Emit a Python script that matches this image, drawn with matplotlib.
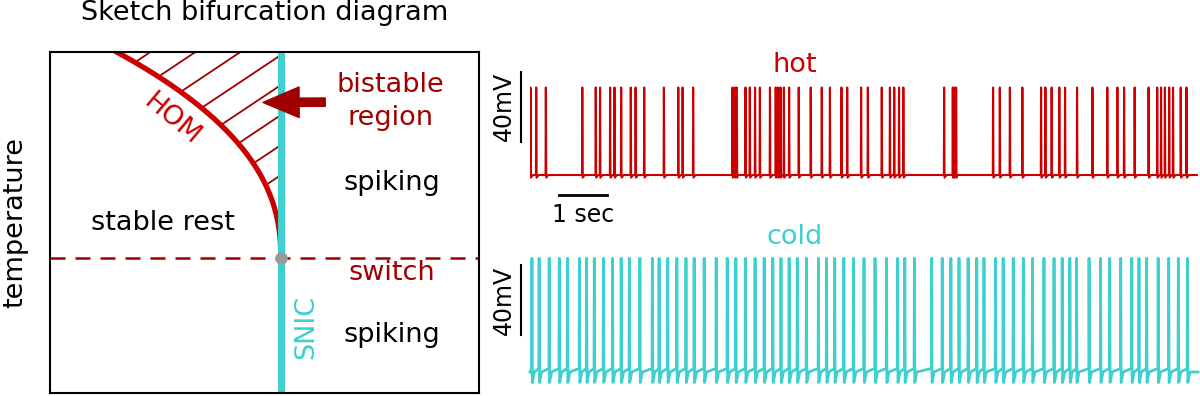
import numpy as np
import matplotlib.pyplot as plt
from matplotlib.patches import Polygon, FancyArrowPatch

# spike times (s)
hot_spikes = [0.01, 0.13, 0.33, 1.09, 1.37, 1.46, 1.67, 1.76, 1.90, 2.10, 2.20, 2.38,
              2.79, 3.09, 3.18, 3.40, 4.22, 4.27, 4.31, 4.49, 4.58, 4.69, 4.79, 5.00,
              5.12, 5.17, 5.22, 5.29, 5.40, 5.60, 5.85, 6.08, 6.25, 6.49, 6.61, 6.90,
              7.04, 7.33, 7.50, 7.59, 7.69, 7.78, 8.63, 8.81, 8.84, 8.88, 9.65, 9.79,
              10.00, 10.26, 10.65, 10.74, 10.87, 11.03, 11.15, 11.40, 11.72, 12.03,
              12.24, 12.38, 12.60, 12.89, 13.07, 13.15, 13.23, 13.32, 13.40, 13.56, 13.68]
cold_spikes = [0.04, 0.19, 0.40, 0.61, 0.78, 1.03, 1.18, 1.34, 1.53, 1.72, 1.90, 2.07,
               2.29, 2.55, 2.69, 2.87, 3.06, 3.25, 3.42, 3.63, 3.88, 4.11, 4.29, 4.49,
               4.69, 4.88, 5.06, 5.23, 5.40, 5.57, 5.76, 6.01, 6.18, 6.35, 6.54, 6.74,
               6.96, 7.19, 7.43, 7.66, 7.81, 8.01, 8.37, 8.59, 8.77, 8.94, 9.13, 9.31,
               9.46, 9.70, 9.86, 10.07, 10.28, 10.47, 10.71, 10.92, 11.09, 11.25, 11.39,
               11.65, 11.89, 12.08, 12.31, 12.54, 12.69, 12.85, 13.09, 13.31, 13.51, 13.70]
t_end = 13.92

hot_rest, hot_peak = -65, -15      # mV
cold_rest, cold_peak = -65, 0

red = '#cc0000'
dark_red = '#a00000'
cyan = '#3ecfcf'


def make_trace(spikes, rest, peak, dip, pre):
    tt = [0.0, t_end]
    vv = [rest, rest]
    for s in spikes:
        tt += [s - 0.006, s, s + 0.008, s + 0.05]
        vv += [rest + pre, peak, rest - dip, rest]
    order = np.argsort(tt, kind='stable')
    return np.array(tt)[order], np.array(vv)[order]


fig = plt.figure(figsize=(12, 3.96), dpi=100)

# ---- bifurcation sketch ----
ax = fig.add_axes([50 / 1200, 3 / 396, 429 / 1200, 341 / 396])
ax.set_xlim(0, 1)
ax.set_ylim(0, 1)
ax.set_xticks([])
ax.set_yticks([])
for sp in ax.spines.values():
    sp.set_linewidth(1.5)

snic_x, switch_y = 0.538, 0.396
yc = np.linspace(switch_y, 1.05, 200)
xc = snic_x - 1.22 * (yc - switch_y) ** 2.3

# hatched bistable region
clip = Polygon(np.column_stack([np.append(xc, snic_x), np.append(yc, 1.05)]),
               closed=True, facecolor='none', edgecolor='none')
ax.add_patch(clip)
xs = np.array([0, snic_x])
for y0 in [0.639, 0.727, 0.815, 0.903, 0.991, 1.079, 1.167, 1.255]:
    ln, = ax.plot(xs, y0 + 0.839 * (xs - snic_x), color=dark_red, lw=1.3)
    ln.set_clip_path(clip)

ax.plot(xc, yc, color=red, lw=3.8, solid_capstyle='butt')
ax.axhline(switch_y, color=dark_red, lw=1.8, dashes=(6, 4))
ax.axvline(snic_x, color=cyan, lw=5)
ax.plot(snic_x, switch_y, 'o', color='#999999', ms=8, zorder=5)

arrow = FancyArrowPatch((0.648, 0.853), (0.49, 0.852), color=dark_red,
                        arrowstyle='simple,head_length=1.3,head_width=1.1,tail_width=0.3',
                        mutation_scale=20, zorder=6)
ax.add_patch(arrow)

fs = 19.5
ax.text(0.793, 0.856, 'bistable\nregion', color=dark_red, fontsize=fs,
        ha='center', va='center', linespacing=1.35)
ax.text(0.797, 0.616, 'spiking', fontsize=fs, ha='center', va='center')
ax.text(0.797, 0.170, 'spiking', fontsize=fs, ha='center', va='center')
ax.text(0.797, 0.352, 'switch', color=dark_red, fontsize=fs, ha='center', va='center')
ax.text(0.263, 0.499, 'stable rest', fontsize=fs, ha='center', va='center')
ax.text(0.284, 0.801, 'HOM', color=red, fontsize=fs, rotation=-40,
        ha='center', va='center', rotation_mode='anchor')
ax.text(0.598, 0.194, 'SNIC', color=cyan, fontsize=fs, rotation=90,
        ha='center', va='center')
ax.set_title('Sketch bifurcation diagram', fontsize=fs, pad=23)
ax.set_ylabel('temperature', fontsize=fs, labelpad=16)

# ---- hot trace ----
ax_h = fig.add_axes([530 / 1200, (396 - 236.25) / 396, 668 / 1200, 175 / 396])
t, v = make_trace(hot_spikes, hot_rest, hot_peak, 1.5, 0)
ax_h.plot(t, v, color=red, lw=1.5)
ax_h.set_xlim(0, t_end)
ax_h.set_ylim(-100, 0)
ax_h.axis('off')
ax_h.text(5.52, -2, 'hot', color=red, fontsize=fs, ha='center', va='center')
ax_h.plot([-0.18, -0.18], [-46, -6], color='k', lw=1.5, clip_on=False)
ax_h.text(-0.3, -26, '40mV', fontsize=17, rotation=90, ha='right', va='center')
ax_h.plot([0.6, 1.6], [-76.4, -76.4], color='k', lw=2, clip_on=False)
ax_h.text(1.1, -88, '1 sec', fontsize=17, ha='center', va='center')

# ---- cold trace ----
ax_c = fig.add_axes([530 / 1200, (396 - 398.25) / 396, 668 / 1200, 148.75 / 396])
t, v = make_trace(cold_spikes, cold_rest, cold_peak, 6, 2)
ax_c.plot(t, v, color=cyan, lw=2, clip_on=False)
ax_c.set_xlim(0, t_end)
ax_c.set_ylim(-80, 5)
ax_c.axis('off')
ax_c.text(5.52, 12, 'cold', color=cyan, fontsize=fs, ha='center', va='center')
ax_c.plot([-0.18, -0.18], [-44, -4], color='k', lw=1.5, clip_on=False)
ax_c.text(-0.3, -24, '40mV', fontsize=17, rotation=90, ha='right', va='center')

fig.savefig('out.png', dpi=100)
